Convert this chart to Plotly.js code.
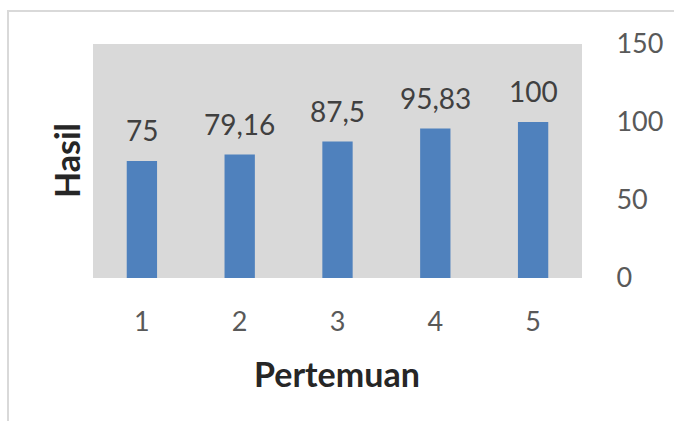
<!DOCTYPE html>
<html><head><meta charset="utf-8">
<script src="https://cdn.plot.ly/plotly-3.0.1.min.js"></script>
<style>
body{margin:0;background:#fff;}
#frame{position:absolute;left:7px;top:10px;width:700px;height:420px;border-left:2px solid #d9d9d9;border-top:2px solid #d9d9d9;}
#chart{position:absolute;left:0;top:0;width:674px;height:421px;}
</style></head>
<body>
<div id="frame"></div>
<div id="chart"></div>
<script>
const categories = ["1","2","3","4","5"];
const values = [75, 79.16, 87.5, 95.83, 100];
const valueLabels = ["75","79,16","87,5","95,83","100"];
const yTicks = [0, 50, 100, 150];

const font = "Lato, 'Open Sans', sans-serif";
const valueAnnotations = categories.map((c, i) => ({
  x: i, y: values[i], xref: "x", yref: "y", text: valueLabels[i],
  showarrow: false, xanchor: "center", yanchor: "bottom", yshift: 12,
  font: {family: font, size: 28, color: "#404040"}
}));

Plotly.newPlot("chart", [{
  type: "bar",
  x: categories,
  y: values,
  marker: {color: "#4f81bd"},
  width: 0.31,
  hoverinfo: "none"
}], {
  width: 674, height: 421,
  margin: {l: 93, r: 92, t: 44, b: 143},
  paper_bgcolor: "rgba(0,0,0,0)",
  plot_bgcolor: "#d9d9d9",
  showlegend: false,
  font: {family: font, color: "#595959"},
  xaxis: {
    type: "category",
    range: [-0.5, 4.5],
    tickfont: {family: font, size: 27, color: "#595959"},
    ticks: "outside", ticklen: 20, tickcolor: "rgba(0,0,0,0)",
    showgrid: false, zeroline: false, showline: false
  },
  yaxis: {
    side: "right",
    range: [0, 150],
    tickvals: yTicks,
    tickfont: {family: font, size: 27, color: "#595959"},
    ticks: "outside", ticklen: 28, tickcolor: "rgba(0,0,0,0)",
    showgrid: false, zeroline: false, showline: false
  },
  annotations: valueAnnotations.concat([
    {text: "<b>Hasil</b>", xref: "paper", yref: "paper", x: -0.0552, y: 0.5,
     xanchor: "center", yanchor: "middle", textangle: -90, showarrow: false,
     font: {family: font, size: 34, color: "#262626"}},
    {text: "<b>Pertemuan</b>", xref: "paper", yref: "paper", x: 0.499, y: -0.41,
     xanchor: "center", yanchor: "middle", showarrow: false,
     font: {family: font, size: 34, color: "#262626"}}
  ])
}, {staticPlot: true});
</script>
</body></html>
